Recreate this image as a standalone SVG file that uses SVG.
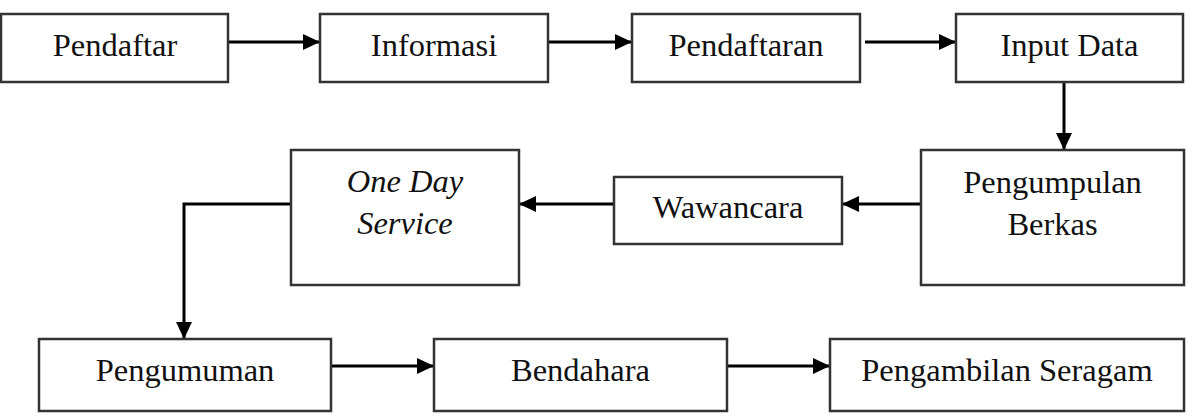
<svg xmlns="http://www.w3.org/2000/svg" width="1189" height="420" viewBox="0 0 1189 420">
<style>
.box{fill:#fff;stroke:#333;stroke-width:2.5}
.t{font-family:"Liberation Serif","Times New Roman",serif;font-size:32.5px;fill:#111;text-anchor:middle}
.i{font-style:italic}
.c{fill:none;stroke:#000;stroke-width:3}
</style>
<defs>
<marker id="ah" markerUnits="userSpaceOnUse" markerWidth="17" markerHeight="18" refX="17" refY="9" orient="auto">
<path d="M0,1 L17,9 L0,17 z" fill="#000"/>
</marker>
</defs>
<rect width="1189" height="420" fill="#fff"/>
<g id="connectors">
<line class="c" x1="228" y1="42" x2="320" y2="42" marker-end="url(#ah)"/>
<line class="c" x1="548" y1="42" x2="632" y2="42" marker-end="url(#ah)"/>
<line class="c" x1="865" y1="42" x2="956" y2="42" marker-end="url(#ah)"/>
<line class="c" x1="1064" y1="82" x2="1064" y2="150" marker-end="url(#ah)"/>
<line class="c" x1="921" y1="204" x2="842" y2="204" marker-end="url(#ah)"/>
<line class="c" x1="614" y1="204" x2="519" y2="204" marker-end="url(#ah)"/>
<polyline class="c" points="291,204 184,204 184,339" marker-end="url(#ah)"/>
<line class="c" x1="331" y1="366" x2="434" y2="366" marker-end="url(#ah)"/>
<line class="c" x1="727" y1="366" x2="830" y2="366" marker-end="url(#ah)"/>
</g>
<g id="n1"><rect class="box" x="1" y="14" width="227" height="68"/><text class="t" x="115" y="56">Pendaftar</text></g>
<g id="n2"><rect class="box" x="320" y="14" width="228" height="68"/><text class="t" x="434" y="56">Informasi</text></g>
<g id="n3"><rect class="box" x="632" y="14" width="228" height="68"/><text class="t" x="746" y="56">Pendaftaran</text></g>
<g id="n4"><rect class="box" x="956" y="14" width="227" height="68"/><text class="t" x="1069.5" y="56">Input Data</text></g>
<g id="n5"><rect class="box" x="921" y="150" width="263" height="135"/><text class="t" x="1052.5" y="193">Pengumpulan</text><text class="t" x="1052.5" y="235">Berkas</text></g>
<g id="n6"><rect class="box" x="614" y="177" width="228" height="67"/><text class="t" x="728" y="218">Wawancara</text></g>
<g id="n7"><rect class="box" x="291" y="150" width="228" height="135"/><text class="t i" x="405" y="192">One Day</text><text class="t i" x="405" y="234">Service</text></g>
<g id="n8"><rect class="box" x="39" y="339" width="292" height="72"/><text class="t" x="185" y="381">Pengumuman</text></g>
<g id="n9"><rect class="box" x="434" y="339" width="293" height="72"/><text class="t" x="580.5" y="381">Bendahara</text></g>
<g id="n10"><rect class="box" x="830" y="339" width="354" height="72"/><text class="t" x="1007" y="381">Pengambilan Seragam</text></g>
</svg>
